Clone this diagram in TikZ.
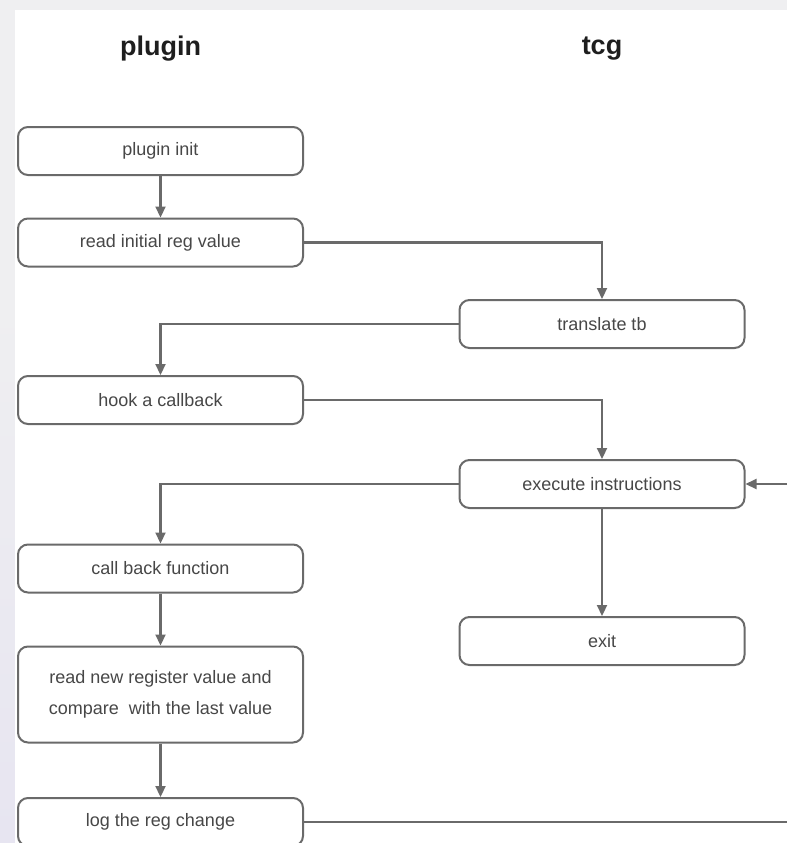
\documentclass[tikz,border=0pt]{standalone}
\usepackage{fontspec}
\setmainfont{Liberation Sans}
\usetikzlibrary{arrows.meta}
\definecolor{bggrey}{HTML}{EFEFF1}
\definecolor{bglav}{HTML}{E7E5F1}
\definecolor{edge}{HTML}{6A6A6A}
\definecolor{label}{HTML}{474747}
\definecolor{heading}{HTML}{1E1E1E}
\begin{document}
\begin{tikzpicture}[x=1pt,y=-1pt,
  stepbox/.style={draw=edge, line width=2pt, rounded corners=10pt, fill=white,
    minimum width=285pt, minimum height=48pt, inner sep=0pt, text=label,
    font=\fontsize{18}{31}\selectfont, align=center},
  flow/.style={draw=edge, line width=2.2pt, -{Triangle[length=11pt,width=10pt]}},
  plain/.style={draw=edge, line width=2.2pt},
  title/.style={font=\bfseries\fontsize{27}{30}\selectfont, text=heading}]
\useasboundingbox (0,0) rectangle (787,843);
% page background and white canvas
\fill[bggrey] (0,0) rectangle (787,843);
\shade[top color=bggrey, bottom color=bglav] (0,300) rectangle (15,843);
\fill[white] (15,10) rectangle (787,843);

% lane headings
\node[title] (hp) at (160.5,49) {plugin};
\node[title] (ht) at (602,49) {tcg};

% steps
\node[stepbox] (init)  at (160.5,151)   {plugin init};
\node[stepbox] (rinit) at (160.5,242.5) {read initial reg value};
\node[stepbox] (trans) at (602,324)     {translate tb};
\node[stepbox] (hook)  at (160.5,400)   {hook a callback};
\node[stepbox] (exec)  at (602,484)     {execute instructions};
\node[stepbox] (cb)    at (160.5,568.5) {call back function};
\node[stepbox, minimum height=96pt] (rnew) at (160.5,694.5)
  {read new register value and\\compare\ \ with the last value};
\node[stepbox] (exit)  at (602,641)     {exit};
\node[stepbox] (log)   at (160.5,822)   {log the reg change};

% connectors
\coordinate (inR)  at (787,484);
\coordinate (outR) at (787,822);
\draw[flow] (init) -- (rinit);
\draw[flow] (rinit.east) -| (trans.north);
\draw[flow] (trans.west) -| (hook.north);
\draw[flow] (hook.east) -| (exec.north);
\draw[flow] (exec.west) -| (cb.north);
\draw[flow] (exec) -- (exit);
\draw[flow] (cb) -- (rnew);
\draw[flow] (rnew) -- (log);
\draw[flow] (inR) -- (exec.east);
\draw[plain] (log.east) -- (outR);
\end{tikzpicture}
\end{document}
